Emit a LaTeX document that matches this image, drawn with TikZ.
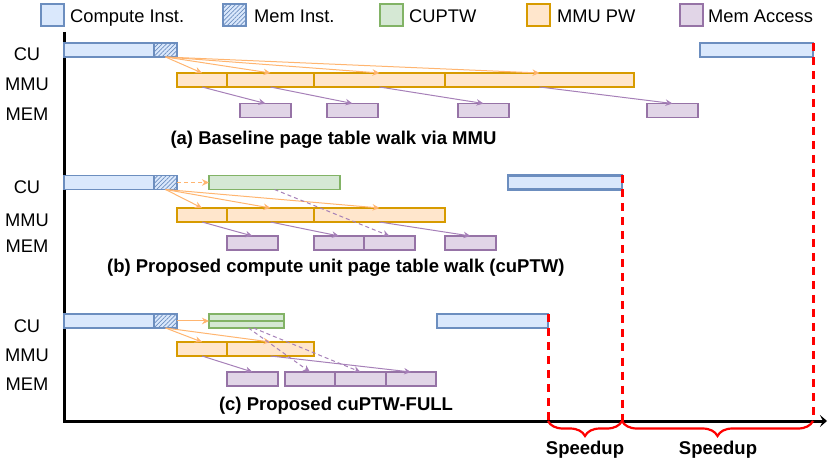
\documentclass[tikz,border=0pt]{standalone}
\usepackage{fontspec}
\setmainfont{Liberation Sans}
\usetikzlibrary{arrows.meta,patterns.meta,decorations.pathreplacing}
\definecolor{cfill}{HTML}{DAE8FC}\definecolor{cdraw}{HTML}{6C8EBF}
\definecolor{gfill}{HTML}{D5E8D4}\definecolor{gdraw}{HTML}{82B366}
\definecolor{ofill}{HTML}{FFE6CC}\definecolor{odraw}{HTML}{D79B00}
\definecolor{pfill}{HTML}{E1D5E7}\definecolor{pdraw}{HTML}{9673A6}
\definecolor{oarrow}{HTML}{FFB570}\definecolor{parrow}{HTML}{A680B8}
\definecolor{myred}{HTML}{FF0000}
\newcommand\tlbar[6]{\node[#1,anchor=north west,minimum width={(#4-#3)*1pt},minimum height=#6pt] (#2) at (#3,#5) {};}
\tikzset{
  bar/.style={draw, line width=1.6pt, inner sep=0pt, outer sep=0pt},
  comp/.style={bar, fill=cfill, draw=cdraw},
  memi/.style={bar, draw=cdraw, preaction={fill=cfill}, pattern={Lines[angle=45,distance=3pt,line width=0.7pt]}, pattern color=cdraw},
  cuptw/.style={bar, fill=gfill, draw=gdraw},
  mmu/.style={bar, fill=ofill, draw=odraw},
  mem/.style={bar, fill=pfill, draw=pdraw},
  oarr/.style={draw=oarrow, line width=1pt, -{Stealth[length=7pt,width=6.5pt]}},
  parr/.style={draw=parrow, line width=1pt, -{Stealth[length=7pt,width=6.5pt]}},
  pdash/.style={parr, dash pattern=on 4pt off 3pt},
  odash/.style={oarr, dash pattern=on 4pt off 3pt},
  rdash/.style={draw=myred, line width=3pt, dash pattern=on 8pt off 6pt},
  brc/.style={draw=myred, line width=2.2pt, decorate, decoration={brace, mirror, amplitude=15pt}},
  lbl/.style={font=\fontsize{18.3}{21}\selectfont, inner sep=0pt},
  captxt/.style={font=\bfseries\fontsize{18.5}{21}\selectfont, inner sep=0pt},
}
\begin{document}
\begin{tikzpicture}[x=1pt,y=-1pt]
\useasboundingbox (0,0) rectangle (828,465);
% legend
\tlbar{comp}{lg1}{41}{64}{4}{22}
\node[lbl,anchor=base west] (lt1) at (70,22.5) {Compute Inst.};
\tlbar{memi}{lg2}{223}{246}{4}{22}
\node[lbl,anchor=base west] (lt2) at (254,22.5) {Mem Inst.};
\tlbar{cuptw}{lg3}{380}{403}{4}{22}
\node[lbl,anchor=base west] (lt3) at (409,22.5) {CUPTW};
\tlbar{mmu}{lg4}{527}{550}{4}{22}
\node[lbl,anchor=base west] (lt4) at (557,22.5) {MMU PW};
\tlbar{mem}{lg5}{680}{703}{4}{22}
\node[lbl,anchor=base west] (lt5) at (708,22.5) {Mem Access};
% axes
\coordinate (ytop) at (64,32);
\coordinate (o) at (64,421);
\coordinate (xend) at (827,421);
\draw[line width=3pt,-{Stealth[length=7pt,width=12pt,inset=3pt]}] (ytop) -- (o) -- (xend);
% row labels
\foreach \n/\t/\yy in {acu/CU/60.5, ammu/MMU/90.7, amem/MEM/120.7,
                       bcu/CU/193.3, bmmu/MMU/226.7, bmem/MEM/252.7,
                       ccu/CU/332.7, cmmu/MMU/361, cmem/MEM/390.7}
  \node[lbl,anchor=base] (l\n) at (27,\yy) {\t};
% ===== (a)
\tlbar{comp}{a-cu1}{64}{154}{43}{14}
\tlbar{memi}{a-mi}{154}{177}{43}{14}
\tlbar{comp}{a-cu2}{700}{813}{43}{14}
\tlbar{mmu}{a-m1}{177}{227}{73}{14}
\tlbar{mmu}{a-m2}{227}{314}{73}{14}
\tlbar{mmu}{a-m3}{314}{445}{73}{14}
\tlbar{mmu}{a-m4}{445}{634}{73}{14}
\tlbar{mem}{a-e1}{240}{291}{103.5}{14}
\tlbar{mem}{a-e2}{327}{378}{103.5}{14}
\tlbar{mem}{a-e3}{458}{509}{103.5}{14}
\tlbar{mem}{a-e4}{647}{698}{103.5}{14}
\foreach \i in {1,2,3,4} {
  \draw[oarr] (a-mi.south) -- (a-m\i.north);
  \draw[parr] (a-m\i.south) -- (a-e\i.north);
}
\node[captxt,anchor=base] (capa) at (333.5,144.5) {(a) Baseline page table walk via MMU};
% ===== (b)
\tlbar{comp}{b-cu1}{64}{154}{175.5}{14}
\tlbar{memi}{b-mi}{154}{177}{175.5}{14}
\tlbar{cuptw}{b-g}{209}{340}{175.5}{14}
\node[comp,line width=2.8pt,anchor=north west,minimum width=114pt,minimum height=14pt] (b-cu2) at (508,175.5) {};
\tlbar{mmu}{b-m1}{177}{227}{208}{14}
\tlbar{mmu}{b-m2}{227}{314}{208}{14}
\tlbar{mmu}{b-m3}{314}{445}{208}{14}
\tlbar{mem}{b-e1}{227}{278}{236}{14}
\tlbar{mem}{b-e2}{314}{364}{236}{14}
\tlbar{mem}{b-e3}{364}{415}{236}{14}
\tlbar{mem}{b-e4}{445}{496}{236}{14}
\draw[odash] (b-mi.east) -- (b-g.west);
\foreach \i in {1,2,3} \draw[oarr] (b-mi.south) -- (b-m\i.north);
\draw[parr] (b-m1.south) -- (b-e1.north);
\draw[parr] (b-m2.south) -- (b-e2.north);
\draw[parr] (b-m3.south) -- (b-e4.north);
\draw[pdash] (b-g.south) -- (b-e3.north);
\node[captxt,anchor=base] (capb) at (335.8,273) {(b) Proposed compute unit page table walk (cuPTW)};
% ===== (c)
\tlbar{comp}{c-cu1}{64}{154}{314}{14}
\tlbar{memi}{c-mi}{154}{177}{314}{14}
\tlbar{cuptw}{c-g1}{209}{284}{314}{7}
\tlbar{cuptw}{c-g2}{209}{284}{321}{7}
\tlbar{comp}{c-cu2}{437}{548}{314}{14}
\tlbar{mmu}{c-m1}{177}{227}{342}{14}
\tlbar{mmu}{c-m2}{227}{314}{342}{14}
\tlbar{mem}{c-e1}{227}{278}{372}{14}
\tlbar{mem}{c-e2}{285}{335}{372}{14}
\tlbar{mem}{c-e3}{335}{386}{372}{14}
\tlbar{mem}{c-e4}{386}{436}{372}{14}
\draw[oarr] (c-mi.east) -- (c-g1.south west);
\foreach \i in {1,2} \draw[oarr] (c-mi.south) -- (c-m\i.north);
\draw[parr] (c-m1.south) -- (c-e1.north);
\draw[parr] (c-m2.south) -- (c-e4.north);
\draw[pdash] ([xshift=2pt]c-g2.south) -- (c-e2.north);
\draw[pdash] ([xshift=7pt]c-g2.south) -- (c-e3.north);
\node[captxt,anchor=base] (capc) at (336,410) {(c) Proposed cuPTW-FULL};
% ===== speedup
\coordinate (s1) at (c-cu2.north east |- o);
\coordinate (s2) at (b-cu2.north east |- o);
\coordinate (s3) at (a-cu2.north east |- o);
\draw[rdash] (c-cu2.north east) -- (s1);
\draw[rdash] (b-cu2.north east) -- (s2);
\draw[rdash] (a-cu2.north east) -- (s3);
\draw[brc] (s1) -- (s2);
\draw[brc] (s2) -- (s3);
\node[captxt] (sp1) at (585,450) {Speedup};
\node[captxt] (sp2) at (718,450) {Speedup};
\end{tikzpicture}
\end{document}
